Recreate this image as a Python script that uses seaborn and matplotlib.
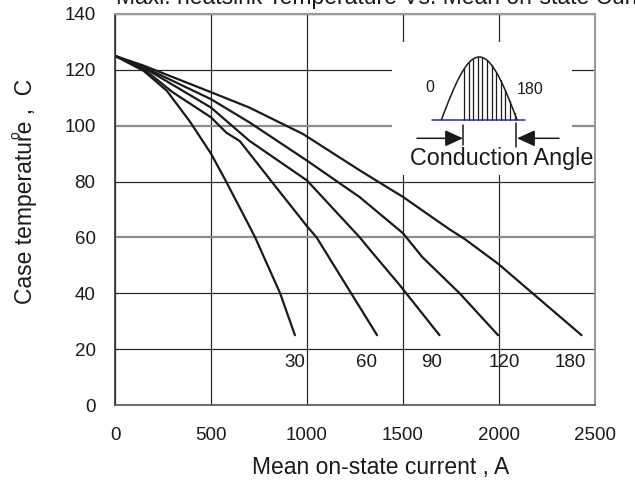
import numpy as np
import pandas as pd
import seaborn as sns
import matplotlib.pyplot as plt
from matplotlib import rcParams

sns.set_style("white")
rcParams['font.family'] = ['Liberation Sans', 'DejaVu Sans']

# curve data (current in A, case temperature in C)
angles = [30, 60, 90, 120, 180]

current_30 = [0, 150, 270, 390, 500, 575, 685, 730, 860, 937]
temp_30 = [125, 119.6, 112.5, 101.5, 90, 80.5, 66, 60, 40, 25]

current_60 = [0, 150, 300, 500, 580, 650, 810, 1000, 1050, 1230, 1365]
temp_60 = [125, 120.3, 112, 103, 97.5, 94.5, 80.5, 64, 60, 40, 25]

current_90 = [0, 150, 500, 700, 1000, 1275, 1330, 1482, 1690]
temp_90 = [125, 120.8, 106.5, 94.6, 80.4, 60, 55.4, 43, 25]

current_120 = [0, 150, 500, 700, 1000, 1275, 1500, 1600, 1795, 1995]
temp_120 = [125, 121, 109.5, 101.2, 87.5, 74.4, 61.5, 53, 40, 25]

current_180 = [0, 150, 500, 700, 980, 1275, 1360, 1500, 1740, 1820, 1995, 2175, 2430]
temp_180 = [125, 121.5, 112, 106.5, 97, 84, 80.4, 74.5, 63, 59.5, 50.6, 40, 25]

# where the angle labels sit
label_x = [937, 1312, 1651, 2026, 2370]
label_y = 15.2

x_ticks = [0, 500, 1000, 1500, 2000, 2500]
y_ticks = [0, 20, 40, 60, 80, 100, 120, 140]

curves = {30: (current_30, temp_30), 60: (current_60, temp_60), 90: (current_90, temp_90),
          120: (current_120, temp_120), 180: (current_180, temp_180)}
df = pd.concat([pd.DataFrame({'current': c, 'temp': t, 'angle': a}) for a, (c, t) in curves.items()],
               ignore_index=True)

fig = plt.figure(figsize=(6.35, 4.93), dpi=100)
ax = fig.add_axes([115 / 635, 88 / 493, 480 / 635, 391 / 493])

sns.lineplot(data=df, x='current', y='temp', units='angle', estimator=None, sort=False,
             color='#1a1a1a', lw=1.6, ax=ax)

ax.set_xlim(0, 2500)
ax.set_ylim(0, 140)
ax.set_xticks(x_ticks)
ax.set_yticks(y_ticks)
ax.tick_params(axis='both', length=0, labelsize=13.5, colors='#1a1a1a')
ax.tick_params(axis='x', pad=16)
ax.tick_params(axis='y', pad=14)

ax.grid(True, color='#2a2a2a', lw=0.9)
ygl = ax.yaxis.get_gridlines()
for i in [3, 5]:
    ygl[i].set_color('#8c8c8c')
    ygl[i].set_linewidth(1.6)

for side in ['top', 'right']:
    ax.spines[side].set_color('#9a9a9a')
    ax.spines[side].set_linewidth(1.5)
ax.spines['left'].set_color('#333333')
ax.spines['bottom'].set_color('#555555')
ax.spines['left'].set_linewidth(1.2)
ax.spines['bottom'].set_linewidth(1.2)

ax.set_xlabel('Mean on-state current , A', fontsize=16.5, color='#1a1a1a')
ax.xaxis.label.set_va('baseline')
ax.xaxis.set_label_coords((381 - 115) / 480, (405 - 474) / 391)
ax.set_ylabel('Case temperature ,  C', fontsize=16.5, color='#1a1a1a')
ax.yaxis.label.set_va('baseline')
ax.yaxis.set_label_coords((32 - 115) / 480, (405 - 191.5) / 391)
fig.text(15 / 635, 1 - 135 / 493, 'o', fontsize=10, rotation=90, ha='center', va='center', color='#1a1a1a')

fig.text(116 / 635, 1 - 4 / 493, 'Maxi. heatsink Temperature Vs. Mean on-state Current',
         fontsize=16.5, ha='left', va='baseline', color='#1a1a1a')

for a, lx in zip(angles, label_x):
    ax.text(lx, label_y, str(a), fontsize=13.5, ha='center', va='center', color='#1a1a1a')

# conduction angle sketch, drawn in pixel-like coordinates
ins = ax.inset_axes([(392 - 115) / 480, (405 - 175) / 391, 180 / 480, 133 / 391])
ins.set_xlim(392, 572)
ins.set_ylim(175, 42)
ins.set_xticks([])
ins.set_yticks([])
for s in ins.spines.values():
    s.set_visible(False)
ins.set_facecolor('white')

xs = np.linspace(441.4, 517, 60)
ys = 119.7 - 62.7 * np.sin(np.pi * (xs - 441.4) / 75.6)
ins.plot(xs, ys, color='#1a1a1a', lw=1.1)
for hx in np.linspace(464, 514.5, 12):
    hy = 119.7 - 62.7 * np.sin(np.pi * (hx - 441.4) / 75.6)
    ins.plot([hx, hx], [119.7, hy], color='#1a1a1a', lw=0.9)
ins.plot([432, 525.4], [119.7, 119.7], color='#2a2aa0', lw=1.1)
ins.plot([463, 463], [125, 145], color='#1a1a1a', lw=1.1, clip_on=False)
ins.plot([516, 516], [123, 147], color='#1a1a1a', lw=1.1, clip_on=False)
astyle = dict(arrowstyle='-|>,head_length=0.55,head_width=0.25', color='#1a1a1a', lw=1.1,
              mutation_scale=20, shrinkA=0, shrinkB=0)
ins.annotate('', xy=(463, 138.3), xytext=(417, 138.3), arrowprops=astyle, annotation_clip=False)
ins.annotate('', xy=(517, 138.3), xytext=(559, 138.3), arrowprops=astyle, annotation_clip=False)
ins.text(429.5, 88, '0', fontsize=11.5, ha='center', va='center', color='#1a1a1a')
ins.text(530.5, 90, '180', fontsize=11.5, ha='center', va='center', color='#1a1a1a')
ins.text(410, 165, 'Conduction Angle', fontsize=16.8, ha='left', va='baseline', color='#1a1a1a',
         clip_on=False)

plt.savefig('out.png', dpi=100)
plt.close()
